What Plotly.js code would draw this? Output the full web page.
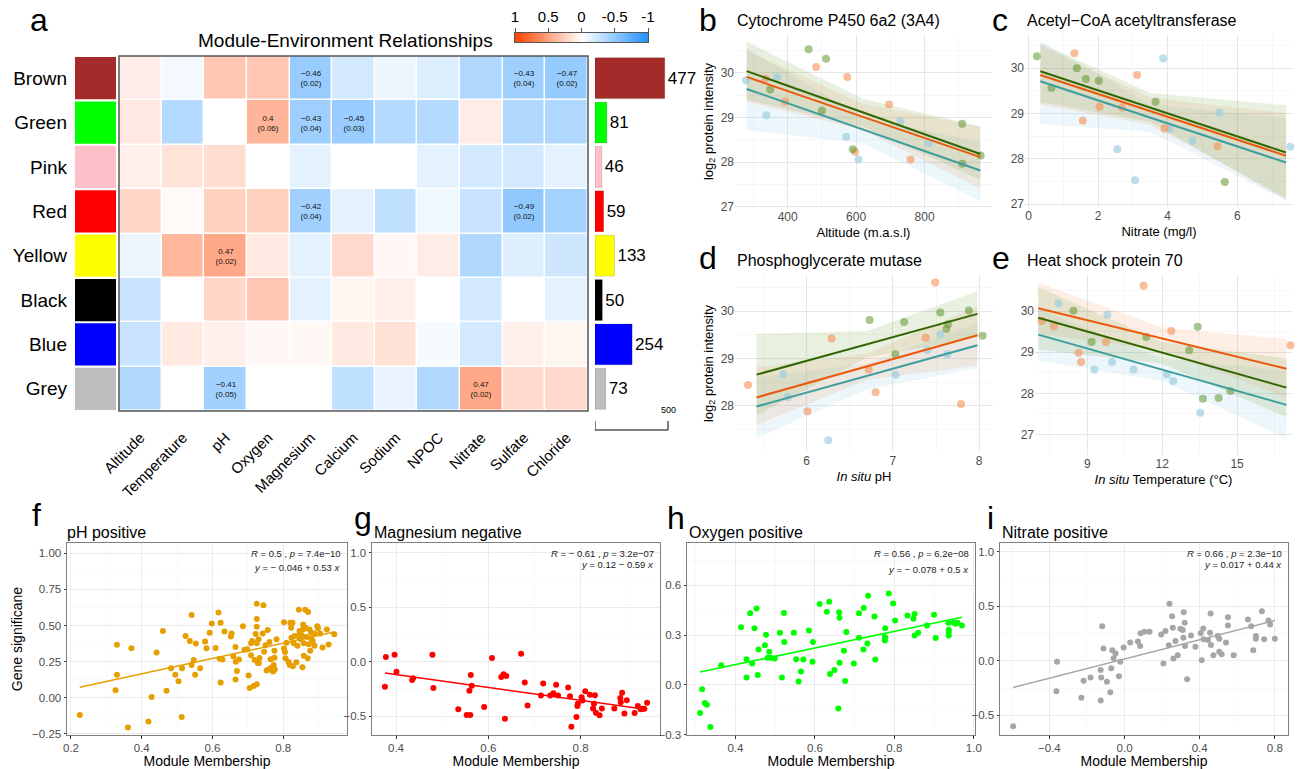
<!DOCTYPE html>
<html><head><meta charset="utf-8">
<script src="https://cdn.plot.ly/plotly-3.0.1.min.js"></script>
<style>html,body{margin:0;padding:0;background:#fff}#chart{width:1301px;height:769px}</style>
</head><body><div id="chart"></div>
<script>
// ---------------- DATA ----------------
const modules = ['Brown','Green','Pink','Red','Yellow','Black','Blue','Grey'];
const moduleColors = ['#A52A2A','#00FF00','#FFC0CB','#FF0000','#FFFF00','#000000','#0000FF','#BEBEBE'];
const moduleSizes = [477,81,46,59,133,50,254,73];
const traits = ['Altitude','Temperature','pH','Oxygen','Magnesium','Calcium','Sodium','NPOC','Nitrate','Sulfate','Chloride'];
const corr = [
  [0.10,-0.05,0.30,0.30,-0.46,-0.20,-0.08,-0.15,-0.35,-0.43,-0.47],
  [0.12,-0.33,0.00,0.40,-0.43,-0.45,-0.33,-0.33,0.10,-0.35,-0.35],
  [0.08,0.15,0.18,0.00,-0.12,0.00,0.00,-0.12,-0.20,-0.20,-0.12],
  [0.22,0.03,0.25,0.25,-0.42,-0.12,-0.28,-0.07,-0.25,-0.49,-0.40],
  [-0.08,0.38,0.47,0.12,-0.12,0.20,0.04,0.10,-0.35,-0.15,-0.22],
  [-0.25,0.00,0.22,0.30,-0.12,0.05,0.08,0.00,-0.20,0.00,-0.12],
  [-0.25,0.12,0.08,0.04,0.04,0.12,0.16,-0.04,-0.20,0.08,0.05],
  [-0.35,0.00,-0.41,0.00,0.00,-0.28,-0.10,-0.35,0.47,0.20,0.20]
];
const pValues = [
  [null,null,null,null,0.02,null,null,null,null,0.04,0.02],
  [null,null,null,0.06,0.04,0.03,null,null,null,null,null],
  [null,null,null,null,null,null,null,null,null,null,null],
  [null,null,null,null,0.04,null,null,null,null,0.02,null],
  [null,null,0.02,null,null,null,null,null,null,null,null],
  [null,null,null,null,null,null,null,null,null,null,null],
  [null,null,null,null,null,null,null,null,null,null,null],
  [null,null,0.05,null,null,null,null,null,0.02,null,null]
];
const colorKey = [1, 0.5, 0, -0.5, -1];
const scaleBarValue = 500;

// panel b: Cytochrome P450 6a2 (3A4) vs Altitude   (groups: green, orange, teal)
const bGreenX = [461,512,349,500,590,910,910,964];
const bGreenY = [30.53,30.32,29.63,29.15,28.29,28.86,27.96,28.15];
const bOrangeX = [483,574,335,393,696,597,759];
const bOrangeY = [30.13,29.91,29.87,29.36,29.29,28.23,28.06];
const bTealX = [278,369,337,571,607,729,813];
const bTealY = [29.83,29.90,29.05,28.57,28.06,28.91,28.42];
const bLineX = [280,963];
const bLineG = [30.04,28.18], bLineO = [29.91,28.11], bLineT = [29.64,27.81];
const bBandX = [280,620,963];
const bUpG = [30.70,29.42,28.80], bLoG = [29.40,28.80,27.60];
const bUpO = [30.50,29.30,28.80], bLoO = [29.35,28.72,27.40];
const bUpT = [30.55,29.00,28.45], bLoT = [28.72,28.42,27.12];

// panel c: Acetyl-CoA acetyltransferase vs Nitrate
const cGreenX = [0.24,0.66,1.39,1.65,2.02,3.65,5.64];
const cGreenY = [30.26,29.57,30.00,29.76,29.72,29.26,27.49];
const cOrangeX = [1.32,1.56,2.04,2.69,3.12,3.91,5.43];
const cOrangeY = [30.33,28.84,29.15,29.13,29.85,28.67,28.28];
const cTealX = [3.87,2.55,3.06,4.06,4.71,5.48,7.52];
const cTealY = [30.21,28.21,27.53,28.66,28.40,29.02,28.27];
const cLineX = [0.34,7.4];
const cLineG = [29.93,28.14], cLineO = [29.85,28.07], cLineT = [29.71,27.92];
const cBandX = [0.34,3.5,7.4];
const cUpG = [30.55,29.45,29.18], cLoG = [29.25,28.82,27.10];
const cUpO = [30.50,29.35,29.00], cLoO = [29.20,28.75,27.15];
const cUpT = [30.60,29.20,28.90], cLoT = [28.77,28.60,27.08];

// panel d: Phosphoglycerate mutase vs in situ pH
const dGreenX = [6.73,7.13,7.03,7.55,7.62,7.64,7.88,8.04];
const dGreenY = [29.81,29.77,29.09,29.97,29.62,29.72,30.01,29.48];
const dOrangeX = [5.32,6.29,6.01,6.72,6.80,7.38,7.49,7.79];
const dOrangeY = [28.44,29.42,27.89,28.77,28.29,29.44,30.60,28.04];
const dTealX = [5.73,5.78,6.25,7.03,7.40,7.55,7.63];
const dTealY = [28.67,28.19,27.28,28.66,29.18,29.51,29.09];
const dLineX = [5.42,7.98];
const dLineG = [28.66,29.94], dLineO = [28.18,29.49], dLineT = [27.99,29.28];
const dBandX = [5.42,6.7,7.98];
const dUpG = [29.52,29.58,30.42], dLoG = [27.80,29.02,29.45];
const dUpO = [28.82,29.10,30.10], dLoO = [27.60,28.55,28.85];
const dUpT = [28.60,28.90,29.75], dLoT = [27.32,28.35,28.80];

// panel e: Heat shock protein 70 vs in situ temperature
const eGreenX = [8.44,9.17,11.36,13.08,13.42,13.63,14.26,14.73];
const eGreenY = [30.01,29.25,29.37,29.05,29.62,27.87,27.89,28.06];
const eOrangeX = [7.17,7.66,8.65,8.75,9.74,11.25,12.36,17.14];
const eOrangeY = [29.76,29.63,28.99,28.76,29.25,30.62,29.52,29.17];
const eTealX = [7.84,9.80,9.28,9.99,10.85,12.19,12.44,13.52];
const eTealY = [30.19,29.91,28.58,28.76,28.58,28.46,28.30,27.53];
const eLineX = [7.03,16.98];
const eLineG = [29.84,28.14], eLineO = [30.07,28.60], eLineT = [29.43,27.72];
const eBandX = [7.03,12.0,16.98];
const eUpG = [30.59,29.25,28.85], eLoG = [29.07,28.72,27.42];
const eUpO = [30.69,29.60,29.32], eLoO = [29.45,29.05,27.90];
const eUpT = [30.05,28.85,28.55], eLoT = [28.80,28.30,26.90];

// panel f: pH positive (module membership vs gene significance)
const fX = [0.225,0.326,0.33,0.33,0.371,0.361,0.419,0.428,0.442,0.46,0.47,0.483,0.495,0.504,0.513,0.514,0.524,0.536,0.541,0.547,0.551,0.553,0.565,0.541,0.579,0.583,0.592,0.598,0.609,0.617,0.62,0.623,0.623,0.628,0.634,0.652,0.654,0.659,0.665,0.665,0.666,0.669,0.675,0.686,0.69,0.698,0.702,0.705,0.709,0.709,0.712,0.716,0.719,0.722,0.725,0.725,0.725,0.725,0.725,0.728,0.73,0.731,0.733,0.742,0.744,0.746,0.75,0.753,0.756,0.758,0.761,0.764,0.766,0.771,0.773,0.775,0.775,0.776,0.781,0.802,0.802,0.805,0.806,0.809,0.815,0.818,0.82,0.822,0.823,0.826,0.827,0.829,0.832,0.837,0.84,0.842,0.844,0.846,0.849,0.852,0.854,0.856,0.856,0.858,0.858,0.862,0.863,0.866,0.869,0.87,0.872,0.874,0.876,0.879,0.879,0.883,0.888,0.888,0.896,0.898,0.904,0.911,0.923,0.928,0.944];
const fY = [-0.118,0.052,0.366,0.16,0.343,-0.205,-0.164,0.005,0.314,0.461,0.048,0.205,0.159,0.114,-0.132,0.205,0.427,0.393,0.227,0.261,0.159,0.375,0.205,0.573,0.389,0.343,0.45,0.514,0.345,0.589,0.27,0.518,0.105,0.264,0.459,0.423,0.445,0.286,0.127,0.352,0.25,0.186,0.264,0.495,0.332,0.336,0.155,0.068,0.295,0.377,0.393,0.082,0.261,0.441,0.65,0.545,0.491,0.377,0.093,0.241,0.405,0.241,0.275,0.445,0.639,0.318,0.364,0.189,0.468,0.195,0.386,0.266,0.207,0.182,0.227,0.277,0.325,0.195,0.405,0.523,0.341,0.316,0.273,0.38,0.248,0.227,0.518,0.484,0.416,0.518,0.218,0.377,0.427,0.245,0.359,0.427,0.609,0.461,0.405,0.432,0.211,0.507,0.473,0.377,0.291,0.609,0.484,0.42,0.273,0.593,0.37,0.473,0.325,0.45,0.409,0.393,0.445,0.359,0.495,0.48,0.445,0.348,0.473,0.368,0.439];
const fFit = [-0.046, 0.53];

// panel g: Magnesium negative
const gX = [0.378,0.376,0.397,0.401,0.435,0.437,0.479,0.481,0.535,0.553,0.559,0.561,0.562,0.564,0.591,0.608,0.628,0.633,0.636,0.639,0.671,0.679,0.685,0.719,0.714,0.734,0.741,0.747,0.751,0.773,0.777,0.78,0.791,0.793,0.794,0.802,0.804,0.81,0.82,0.827,0.829,0.831,0.833,0.841,0.846,0.873,0.886,0.887,0.89,0.895,0.9,0.917,0.924,0.93,0.934,0.938,0.944];
const gY = [0.045,-0.228,0.066,-0.09,-0.165,-0.15,0.066,-0.24,-0.435,-0.486,-0.264,-0.486,-0.12,-0.219,-0.414,0.036,-0.138,-0.114,-0.52,-0.129,0.075,-0.189,-0.4,-0.198,-0.309,-0.309,-0.288,-0.21,-0.309,-0.234,-0.315,-0.595,-0.505,-0.405,-0.384,-0.324,-0.354,-0.27,-0.3,-0.426,-0.384,-0.306,-0.465,-0.489,-0.426,-0.426,-0.33,-0.369,-0.282,-0.474,-0.351,-0.468,-0.405,-0.435,-0.429,-0.429,-0.375];
const gFit = [0.12, -0.59];

// panel h: Oxygen positive
const hX = [0.311,0.316,0.323,0.328,0.337,0.364,0.414,0.428,0.428,0.437,0.442,0.448,0.453,0.456,0.458,0.474,0.477,0.481,0.485,0.489,0.499,0.512,0.517,0.522,0.523,0.547,0.553,0.559,0.565,0.571,0.585,0.594,0.595,0.612,0.63,0.636,0.638,0.649,0.659,0.661,0.662,0.662,0.673,0.676,0.679,0.698,0.711,0.711,0.722,0.723,0.732,0.734,0.75,0.752,0.776,0.776,0.777,0.777,0.786,0.797,0.802,0.833,0.848,0.851,0.851,0.86,0.882,0.9,0.904,0.936,0.937,0.937,0.937,0.949,0.954,0.959,0.97];
const hY = [-0.169,-0.026,-0.109,-0.119,-0.254,0.119,0.348,0.155,0.044,0.431,0.129,0.342,0.461,0.06,0.213,0.239,0.302,0.163,0.199,0.163,0.159,0.314,0.044,0.433,0.258,0.314,0.155,0.02,0.08,0.153,0.328,0.139,0.258,0.487,0.441,0.501,0.066,0.089,-0.143,0.437,0.404,0.133,0.205,0.024,0.318,0.129,0.431,0.284,0.213,0.463,0.249,0.537,0.412,0.153,0.288,0.268,0.342,0.282,0.551,0.491,0.388,0.418,0.398,0.427,0.298,0.314,0.358,0.423,0.282,0.374,0.332,0.318,0.298,0.374,0.368,0.374,0.358];
const hFit = [-0.078, 0.5];

// panel i: Nitrate positive
const iX = [-0.593,-0.359,-0.363,-0.23,-0.218,-0.181,-0.127,-0.127,-0.124,-0.119,-0.112,-0.094,-0.076,-0.071,-0.065,-0.058,-0.048,-0.03,-0.023,-0.005,0.03,0.071,0.083,0.085,0.106,0.133,0.195,0.207,0.218,0.235,0.239,0.253,0.257,0.26,0.271,0.283,0.297,0.31,0.313,0.315,0.32,0.322,0.333,0.354,0.377,0.405,0.411,0.419,0.421,0.444,0.455,0.458,0.46,0.473,0.496,0.504,0.504,0.517,0.54,0.55,0.55,0.581,0.657,0.674,0.685,0.699,0.699,0.731,0.743,0.766,0.775,0.8];
const iY = [-0.6,-0.009,-0.279,-0.339,-0.182,-0.152,-0.364,-0.085,-0.152,0.318,0.112,-0.191,-0.288,-0.067,0.097,0.024,0.067,-0.142,-0.009,0.121,0.167,0.176,0.136,0.252,0.267,0.267,0.242,-0.024,0.273,0.142,0.524,0.409,0.303,0.021,0.182,0.052,0.294,0.282,0.212,0.445,0.348,0.136,-0.17,0.233,0.13,0.252,0.006,0.297,0.197,0.191,0.258,0.433,0.145,0.052,0.227,0.203,0.082,0.061,0.167,0.4,0.324,0.052,0.379,0.318,0.097,0.227,0.203,0.455,0.197,0.37,0.333,0.203];
const iFit = [0.017, 0.44];

// ---------------- LAYOUT HELPERS ----------------
const W = 1301, H = 769;
const PX = (a, b) => [a / W, b / W];
const PY = (top, bottom) => [1 - bottom / H, 1 - top / H];
const FONT = 'Liberation Sans, Arial, Helvetica, sans-serif';
const minus = s => s.replace(/-/g, '\u2212');
const CS = [[0, '#1E90FF'], [0.5, '#FFFFFF'], [1, '#FF4500']];

const data = [];
const layout = {
  width: W, height: H, margin: {l: 0, r: 0, t: 0, b: 0},
  paper_bgcolor: '#fff', plot_bgcolor: '#fff', showlegend: false,
  font: {family: FONT, color: '#000'}, shapes: [], annotations: []
};
const ann = (text, x, y, size, extra) => layout.annotations.push(Object.assign({
  text, x: x / W, y: 1 - y / H, xref: 'paper', yref: 'paper', showarrow: false,
  xanchor: 'left', yanchor: 'middle', font: {size, family: FONT, color: '#000'}
}, extra || {}));

// ---------------- PANEL A ----------------
const cellText = corr.map((row, i) => row.map((v, j) =>
  pValues[i][j] == null ? ' ' : minus(String(v)) + '<br>(' + pValues[i][j].toFixed(2) + ')'));
data.push({type: 'heatmap', x: traits, y: modules, z: corr, text: cellText, texttemplate: '%{text}',
  textfont: {size: 8, color: '#111', family: FONT}, colorscale: CS, zmin: -1, zmax: 1, showscale: false,
  xgap: 1.5, ygap: 1.5, xaxis: 'x', yaxis: 'y', hoverinfo: 'skip'});
layout.xaxis = {domain: PX(119, 588), anchor: 'y', tickangle: -45, ticks: '', showgrid: false, zeroline: false,
  tickfont: {size: 15, color: '#000'}, ticklabelstandoff: 14};
layout.yaxis = {domain: PY(56, 411), anchor: 'x', autorange: 'reversed', showticklabels: false, showgrid: false, zeroline: false, ticks: ''};
layout.shapes.push({type: 'rect', xref: 'x domain', yref: 'y domain', x0: 0, x1: 1, y0: 0, y1: 1, line: {color: '#555', width: 1.5}});

// module colour blocks
data.push({type: 'bar', orientation: 'h', y: modules, x: modules.map(() => 1), marker: {color: moduleColors, line: {width: 0}},
  width: 0.95, xaxis: 'x2', yaxis: 'y2', hoverinfo: 'skip'});
layout.xaxis2 = {domain: PX(75, 116), anchor: 'y2', range: [0, 1], visible: false};
layout.yaxis2 = {domain: PY(56, 411), anchor: 'x2', autorange: 'reversed', categoryorder: 'array', categoryarray: modules,
  ticks: '', showgrid: false, zeroline: false, tickfont: {size: 19, color: '#000'}, ticklabelstandoff: 7};

// module size bars
data.push({type: 'bar', orientation: 'h', y: modules, x: moduleSizes, text: moduleSizes.map(String), textposition: 'outside',
  textfont: {size: 17, color: '#000'}, cliponaxis: false, marker: {color: moduleColors, line: {color: 'rgba(0,0,0,0.25)', width: 0.6}},
  width: 0.92, xaxis: 'x3', yaxis: 'y3', hoverinfo: 'skip'});
layout.xaxis3 = {domain: PX(595, 671), anchor: 'y3', range: [0, 520], visible: false};
layout.yaxis3 = {domain: PY(56, 411), anchor: 'x3', autorange: 'reversed', categoryorder: 'array', categoryarray: modules, visible: false};
// scale bar
layout.shapes.push({type: 'line', xref: 'x3', yref: 'paper', x0: 0, x1: scaleBarValue, y0: 1 - 430 / H, y1: 1 - 430 / H, line: {color: '#555', width: 1.5}});
layout.shapes.push({type: 'line', xref: 'x3', yref: 'paper', x0: 0, x1: 0, y0: 1 - 430 / H, y1: 1 - 421 / H, line: {color: '#555', width: 1.5}});
layout.shapes.push({type: 'line', xref: 'x3', yref: 'paper', x0: scaleBarValue, x1: scaleBarValue, y0: 1 - 430 / H, y1: 1 - 421 / H, line: {color: '#555', width: 1.5}});
layout.annotations.push({text: String(scaleBarValue), x: scaleBarValue, xref: 'x3', y: 1 - 410 / H, yref: 'paper', showarrow: false,
  xanchor: 'center', yanchor: 'middle', font: {size: 9, family: FONT, color: '#000'}});

// colour key
data.push({type: 'heatmap', x: colorKey, y: [0], z: [colorKey], zsmooth: 'best', colorscale: CS, zmin: -1, zmax: 1, showscale: false,
  xaxis: 'x4', yaxis: 'y4', hoverinfo: 'skip'});
layout.xaxis4 = {domain: PX(515, 648), anchor: 'y4', side: 'top', range: [1, -1], tickvals: colorKey, ticktext: colorKey.map(v => String(v)),
  ticks: 'outside', ticklen: 4, tickcolor: '#555', showline: true, mirror: true, linecolor: '#555', linewidth: 1, showgrid: false, zeroline: false,
  tickfont: {size: 15, color: '#000'}};
layout.yaxis4 = {domain: PY(33, 42), anchor: 'x4', range: [-0.5, 0.5], showticklabels: false, ticks: '', showgrid: false, zeroline: false,
  showline: true, mirror: true, linecolor: '#555', linewidth: 1};

ann('Module-Environment Relationships', 345, 40, 19, {xanchor: 'center'});
ann('a', 28, 20, 32);

// ---------------- PANELS B-E ----------------
const lineCols = ['#336600', '#EB5A0C', '#3E9E9E'];
const ptCols = ['rgba(95,150,45,0.55)', 'rgba(245,145,85,0.6)', 'rgba(150,205,222,0.65)'];
const bandCols = ['rgba(110,160,60,0.16)', 'rgba(240,150,90,0.15)', 'rgba(140,200,225,0.16)'];

function topPanel(ax, pts, lineX, lines, bandX, ups, los) {
  const xa = 'x' + ax, ya = 'y' + ax;
  [2, 1, 0].forEach(g => data.push({type: 'scatter', mode: 'lines', x: bandX.concat(bandX.slice().reverse()),
    y: ups[g].concat(los[g].slice().reverse()), fill: 'toself', fillcolor: bandCols[g], line: {width: 0}, xaxis: xa, yaxis: ya, hoverinfo: 'skip'}));
  [2, 1, 0].forEach(g => data.push({type: 'scatter', mode: 'markers', x: pts[g][0], y: pts[g][1], marker: {size: 8, color: ptCols[g]},
    cliponaxis: false, xaxis: xa, yaxis: ya, hoverinfo: 'skip'}));
  [2, 1, 0].forEach(g => data.push({type: 'scatter', mode: 'lines', x: lineX, y: lines[g], line: {color: lineCols[g], width: 2},
    xaxis: xa, yaxis: ya, hoverinfo: 'skip'}));
}
function minAx(domain, range, dtick, mdtick, anchor, extra) {
  return Object.assign({domain, range, dtick, tick0: 0, anchor, showgrid: true, gridcolor: '#E6E6E6', gridwidth: 1, zeroline: false,
    showline: false, ticks: '', tickfont: {size: 12, color: '#4D4D4D'},
    minor: {showgrid: true, gridcolor: '#F3F3F3', gridwidth: 0.7, dtick: mdtick, tick0: 0}}, extra || {});
}
const ttl = (t, s) => ({text: t, font: {size: s || 13, color: '#000'}, standoff: 4});

topPanel(5, [[bGreenX, bGreenY], [bOrangeX, bOrangeY], [bTealX, bTealY]], bLineX, [bLineG, bLineO, bLineT], bBandX, [bUpG, bUpO, bUpT], [bLoG, bLoO, bLoT]);
layout.xaxis5 = minAx(PX(735, 992), [246, 997], 200, 100, 'y5', {title: ttl('Altitude (m.a.s.l)')});
layout.yaxis5 = minAx(PY(35, 208), [26.97, 30.85], 1, 0.5, 'x5', {title: ttl('log<sub>2</sub> protein intensity')});

topPanel(6, [[cGreenX, cGreenY], [cOrangeX, cOrangeY], [cTealX, cTealY]], cLineX, [cLineG, cLineO, cLineT], cBandX, [cUpG, cUpO, cUpT], [cLoG, cLoO, cLoT]);
layout.xaxis6 = minAx(PX(1025, 1293), [-0.1, 7.6], 2, 1, 'y6', {title: ttl('Nitrate (mg/l)')});
layout.yaxis6 = minAx(PY(35, 207), [26.94, 30.73], 1, 0.5, 'x6');

topPanel(7, [[dGreenX, dGreenY], [dOrangeX, dOrangeY], [dTealX, dTealY]], dLineX, [dLineG, dLineO, dLineT], dBandX, [dUpG, dUpO, dUpT], [dLoG, dLoO, dLoT]);
layout.xaxis7 = minAx(PX(735, 993), [5.17, 8.16], 1, 0.5, 'y7', {title: ttl('<i>In situ</i> pH')});
layout.yaxis7 = minAx(PY(275, 452), [27.03, 30.76], 1, 0.5, 'x7', {title: ttl('log<sub>2</sub> protein intensity')});

topPanel(8, [[eGreenX, eGreenY], [eOrangeX, eOrangeY], [eTealX, eTealY]], eLineX, [eLineG, eLineO, eLineT], eBandX, [eUpG, eUpO, eUpT], [eLoG, eLoO, eLoT]);
layout.xaxis8 = minAx(PX(1035, 1292), [6.9, 17.2], 3, 1.5, 'y8', {title: ttl('<i>In situ</i> Temperature (°C)')});
layout.yaxis8 = minAx(PY(275, 455), [26.5, 30.88], 1, 0.5, 'x8');

ann('b', 697, 20, 32); ann('Cytochrome P450 6a2 (3A4)', 735, 20, 16);
ann('c', 990, 20, 32); ann('Acetyl\u2212CoA acetyltransferase', 1025, 20, 16);
ann('d', 697, 258, 32); ann('Phosphoglycerate mutase', 735, 260, 16);
ann('e', 990, 258, 32); ann('Heat shock protein 70', 1025, 260, 16);

// ---------------- PANELS F-I ----------------
function bwAx(domain, range, dtick, fmt, anchor, extra) {
  return Object.assign({domain, range, dtick, tick0: 0, tickformat: fmt, anchor, showgrid: true, gridcolor: '#EBEBEB', gridwidth: 1,
    minor: {showgrid: true, gridcolor: '#F6F6F6', gridwidth: 0.7, dtick: dtick / 2, tick0: 0}, zeroline: false,
    showline: true, mirror: true, linecolor: '#7F7F7F', linewidth: 1, ticks: 'outside', ticklen: 2.5, tickcolor: '#333',
    tickfont: {size: 11.5, color: '#4D4D4D'}}, extra || {});
}
function bottomPanel(ax, xs, ys, fit, color) {
  const xa = 'x' + ax, ya = 'y' + ax;
  data.push({type: 'scatter', mode: 'markers', x: xs, y: ys, marker: {size: 6, color}, xaxis: xa, yaxis: ya, hoverinfo: 'skip'});
  const x0 = Math.min(...xs), x1 = Math.max(...xs);
  data.push({type: 'scatter', mode: 'lines', x: [x0, x1], y: [fit[0] + fit[1] * x0, fit[0] + fit[1] * x1], line: {color, width: 1.6},
    xaxis: xa, yaxis: ya, hoverinfo: 'skip'});
}
const mm = {text: 'Module Membership', font: {size: 14, color: '#000'}, standoff: 1};
const BOX = PY(543, 735);

bottomPanel(9, fX, fY, fFit, '#E69F00');
layout.xaxis9 = bwAx(PX(67, 347), [0.189, 0.98], 0.2, '.1f', 'y9', {title: mm});
layout.yaxis9 = bwAx(BOX, [-0.257, 1.07], 0.25, '.2f', 'x9', {title: {text: 'Gene significane', font: {size: 14, color: '#000'}, standoff: 6}});

bottomPanel(10, gX, gY, gFit, '#FF0000');
layout.xaxis10 = bwAx(PX(372, 660), [0.348, 0.972], 0.2, '.1f', 'y10', {title: mm});
layout.yaxis10 = bwAx(BOX, [-0.67, 1.09], 0.5, '.1f', 'x10');

bottomPanel(11, hX, hY, hFit, '#00FF00');
layout.xaxis11 = bwAx(PX(687, 975), [0.278, 1.003], 0.2, '.1f', 'y11', {title: mm});
layout.yaxis11 = bwAx(BOX, [-0.302, 0.855], 0.3, '.1f', 'x11');

bottomPanel(12, iX, iY, iFit, '#A6A6A6');
layout.xaxis12 = bwAx(PX(1000, 1288), [-0.663, 0.87], 0.4, '.1f', 'y12', {title: mm});
layout.yaxis12 = bwAx(BOX, [-0.68, 1.08], 0.5, '.1f', 'x12');

ann('f', 30, 515, 32); ann('pH positive', 65, 532, 16);
ann('g', 352, 518, 32); ann('Magnesium negative', 372, 532, 16);
ann('h', 665, 518, 32); ann('Oxygen positive', 687, 532, 16);
ann('i', 985, 518, 32); ann('Nitrate positive', 1000, 532, 16);

function stat(ax, l1, l2, y2) {
  const base = {xref: 'x' + ax + ' domain', yref: 'paper', x: 1, xanchor: 'right', yanchor: 'middle', xshift: -4, showarrow: false,
    font: {size: 9.5, family: FONT, color: '#222'}};
  layout.annotations.push(Object.assign({}, base, {text: l1, y: 1 - 553 / H}));
  layout.annotations.push(Object.assign({}, base, {text: l2, y: 1 - y2 / H}));
}
stat(9, '<i>R</i> = 0.5 , <i>p</i> = 7.4e\u221210', '<i>y</i> = \u2212 0.046 + 0.53 <i>x</i>', 567);
stat(10, '<i>R</i> = \u2212 0.61 , <i>p</i> = 3.2e\u221207', '<i>y</i> = 0.12 \u2212 0.59 <i>x</i>', 564);
stat(11, '<i>R</i> = 0.56 , <i>p</i> = 6.2e\u221208', '<i>y</i> = \u2212 0.078 + 0.5 <i>x</i>', 569);
stat(12, '<i>R</i> = 0.66 , <i>p</i> = 2.3e\u221210', '<i>y</i> = 0.017 + 0.44 <i>x</i>', 564);

Plotly.newPlot('chart', data, layout, {staticPlot: true, displayModeBar: false});
</script></body></html>
